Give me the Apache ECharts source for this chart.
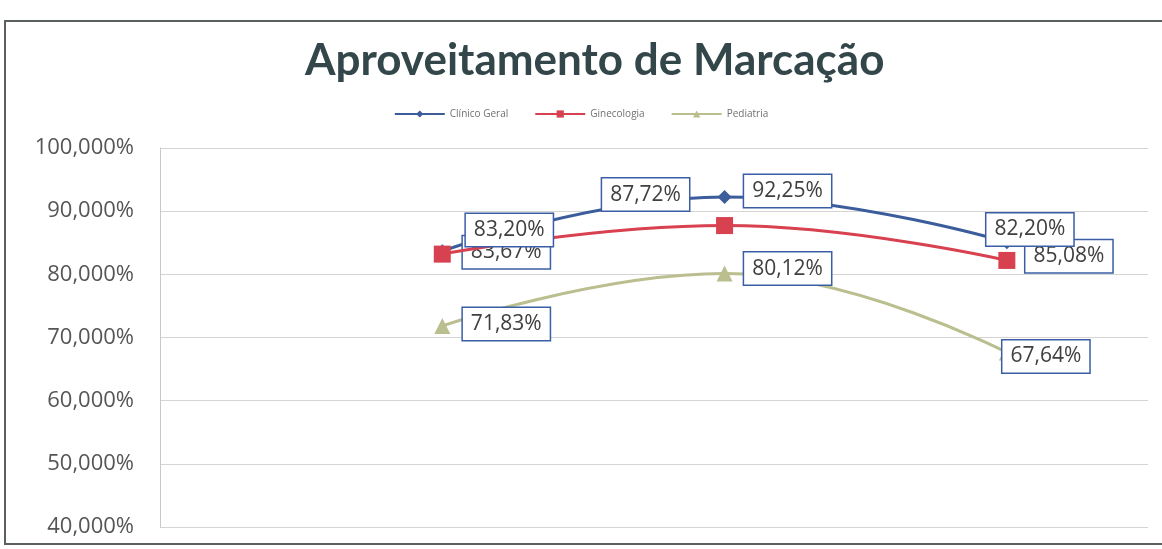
<!DOCTYPE html>
<html>
<head>
<meta charset="utf-8">
<script src="https://cdn.jsdelivr.net/npm/echarts@6/dist/echarts.min.js"></script>
<style>
  html, body { margin: 0; padding: 0; background: #ffffff; }
  #chart { width: 1162px; height: 549px; }
</style>
</head>
<body>
<div id="chart"></div>
<script>
// Positions of the three periods along the horizontal scale
const periodos = [1, 2, 3];
const seriesNames = ['Clínico Geral', 'Ginecologia', 'Pediatria'];
// Monthly use of bookings, in percent
const clinicoGeral = [83.67, 92.25, 85.08];
const ginecologia = [83.20, 87.72, 82.20];
const pediatria = [71.83, 80.12, 67.64];
const yTicks = [40, 50, 60, 70, 80, 90, 100];

// Manually placed value boxes (offset of the box centre from the point, px)
const labelOffsets = {
  'Clínico Geral': [[64, 1], [63, -6], [62, 14]],
  'Ginecologia': [[67, -24], [-79, -31], [23, -31]],
  'Pediatria': [[64, -2], [63, -5], [39, 4]]
};

const colors = { 'Clínico Geral': '#3b5d9b', 'Ginecologia': '#d8414f', 'Pediatria': '#bbbe8e' };
const symbols = { 'Clínico Geral': 'diamond', 'Ginecologia': 'rect', 'Pediatria': 'triangle' };
const symbolSizes = { 'Clínico Geral': 14, 'Ginecologia': 17, 'Pediatria': 16 };

const fmt = v => v.toFixed(2).replace('.', ',') + '%';

function buildSeries(name, values, z) {
  return {
    name: name,
    type: 'line',
    smooth: 0.45,
    z: z,
    symbol: symbols[name],
    symbolSize: symbolSizes[name],
    lineStyle: { color: colors[name], width: 3 },
    itemStyle: { color: colors[name] },
    data: values.map((v, i) => ({
      value: [periodos[i], v],
      label: {
        show: true,
        position: 'inside',
        offset: labelOffsets[name][i],
        formatter: () => fmt(v),
        color: '#404040',
        fontFamily: 'Open Sans',
        fontSize: 21,
        lineHeight: 23,
        backgroundColor: '#ffffff',
        borderColor: '#3a5da6',
        borderWidth: 1.5,
        padding: [5, 8, 4, 8]
      }
    })),
    emphasis: { disabled: true }
  };
}

const chart = echarts.init(document.getElementById('chart'), null, { renderer: 'canvas' });

chart.setOption({
  backgroundColor: '#ffffff',
  animation: false,
  title: {
    text: 'Aproveitamento de Marcação',
    left: 300,
    top: 34,
    textStyle: {
      fontFamily: 'Lato',
      fontWeight: 'bold',
      fontSize: 44,
      color: '#33474a'
    }
  },
  legend: {
    top: 104,
    left: 'center',
    data: seriesNames,
    itemWidth: 50,
    itemHeight: 9,
    itemGap: 26,
    textStyle: { fontSize: 10, color: '#707070', fontFamily: 'Open Sans' }
  },
  graphic: [{
    type: 'rect',
    shape: { x: 5, y: 21, width: 1170, height: 523 },
    style: { fill: 'none', stroke: '#5a5f5f', lineWidth: 2 },
    silent: true
  }],
  grid: { left: 160, right: 14, top: 148, bottom: 22, containLabel: false },
  xAxis: {
    type: 'value',
    min: 0,
    max: 3.5,
    show: false
  },
  yAxis: {
    type: 'value',
    min: yTicks[0],
    max: yTicks[yTicks.length - 1],
    interval: 10,
    axisLine: { show: true, lineStyle: { color: '#c8c8c8', width: 1 } },
    axisTick: { show: false },
    splitLine: { lineStyle: { color: '#d4d4d4', width: 1 } },
    axisLabel: {
      margin: 26,
      color: '#555555',
      fontFamily: 'Open Sans',
      fontSize: 22,
      formatter: v => v.toFixed(3).replace('.', ',') + '%'
    }
  },
  series: [
    buildSeries('Clínico Geral', clinicoGeral, 3),
    buildSeries('Ginecologia', ginecologia, 4),
    buildSeries('Pediatria', pediatria, 2)
  ]
});
</script>
</body>
</html>
